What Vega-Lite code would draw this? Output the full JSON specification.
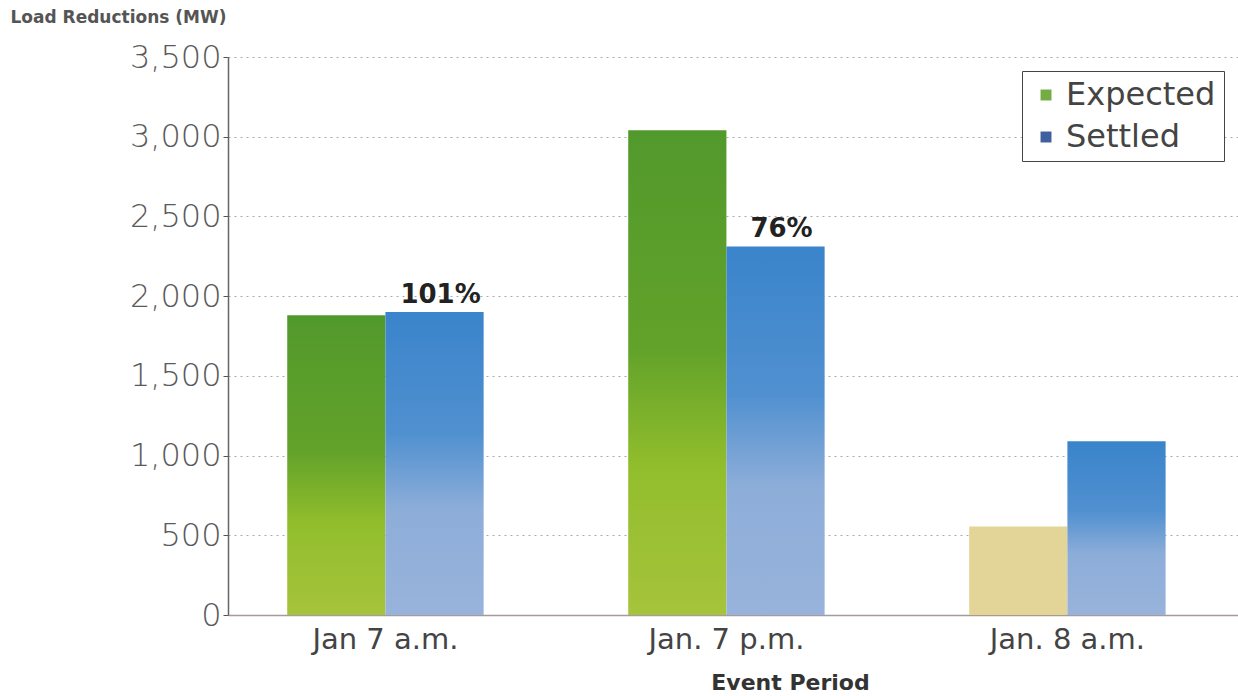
{
  "$schema": "https://vega.github.io/schema/vega-lite/v6.json",
  "width": 1010,
  "height": 558,
  "padding": {"left": 10, "top": 8, "right": 0, "bottom": 0},
  "background": "white",
  "data": {
    "values": [
      {"period": "Jan 7 a.m.", "series": "Expected", "value": 1880, "label": null},
      {"period": "Jan 7 a.m.", "series": "Settled", "value": 1900, "label": "101%"},
      {"period": "Jan. 7 p.m.", "series": "Expected", "value": 3040, "label": null},
      {"period": "Jan. 7 p.m.", "series": "Settled", "value": 2312, "label": "76%"},
      {"period": "Jan. 8 a.m.", "series": "Expected", "value": 555, "label": null},
      {"period": "Jan. 8 a.m.", "series": "Settled", "value": 1090, "label": null}
    ]
  },
  "config": {
    "view": {"stroke": null},
    "font": "DejaVu Sans"
  },
  "encoding": {
    "x": {
      "field": "period",
      "type": "nominal",
      "sort": ["Jan 7 a.m.", "Jan. 7 p.m.", "Jan. 8 a.m."],
      "scale": {"paddingInner": 0.424, "paddingOuter": 0.193, "align": 0.45},
      "axis": {
        "title": "Event Period",
        "titleFont": "DejaVu Sans",
        "titleFontSize": 22,
        "titleFontWeight": "bold",
        "titleColor": "#333333",
        "titleX": 562,
        "titleAlign": "center",
        "titlePadding": 18,
        "labelAngle": 0,
        "labelFont": "DejaVu Sans",
        "labelFontSize": 29,
        "labelColor": "#444444",
        "labelPadding": 10,
        "ticks": false,
        "domainColor": "#a89a9a",
        "domainWidth": 1.5,
        "grid": false
      }
    },
    "xOffset": {
      "field": "series",
      "type": "nominal",
      "scale": {"domain": ["Expected", "Settled"], "paddingInner": 0, "paddingOuter": 0}
    },
    "y": {
      "field": "value",
      "type": "quantitative",
      "scale": {"domain": [0, 3500], "nice": false},
      "axis": {
        "values": [0, 500, 1000, 1500, 2000, 2500, 3000, 3500],
        "format": ",d",
        "title": "Load Reductions (MW)",
        "titleAngle": 0,
        "titleAlign": "left",
        "titleBaseline": "top",
        "titleX": -218,
        "titleY": -48,
        "titleFont": "DejaVu Sans",
        "titleFontSize": 17,
        "titleFontWeight": "bold",
        "titleColor": "#555555",
        "labelFont": "DejaVu Sans",
        "labelFontSize": 32,
        "labelFontWeight": 300,
        "labelColor": "#5a5a5a",
        "labelPadding": 2,
        "tickSize": 5,
        "tickColor": "#555555",
        "domainColor": "#666666",
        "domainWidth": 1.5,
        "grid": true,
        "gridColor": "#aaaaaa",
        "gridDash": [2, 4],
        "gridWidth": 1
      }
    }
  },
  "layer": [
    {
      "mark": {"type": "bar"},
      "encoding": {
        "color": {
          "condition": [
            {
              "test": "datum.series === 'Expected' && datum.period === 'Jan. 8 a.m.'",
              "value": "#e2d597"
            },
            {
              "test": "datum.series === 'Expected'",
              "value": {
                "gradient": "linear", "x1": 0, "y1": 0, "x2": 0, "y2": 1,
                "stops": [
                  {"offset": 0, "color": "#52992c"},
                  {"offset": 0.45, "color": "#62a22a"},
                  {"offset": 0.7, "color": "#92be2c"},
                  {"offset": 1, "color": "#a6c33c"}
                ]
              }
            },
            {
              "test": "datum.series === 'Settled'",
              "value": {
                "gradient": "linear", "x1": 0, "y1": 0, "x2": 0, "y2": 1,
                "stops": [
                  {"offset": 0, "color": "#3a84cb"},
                  {"offset": 0.4, "color": "#5090d0"},
                  {"offset": 0.65, "color": "#8dadd9"},
                  {"offset": 1, "color": "#98b3db"}
                ]
              }
            }
          ],
          "field": "series",
          "type": "nominal",
          "scale": {"domain": ["Expected", "Settled"], "range": ["#74ac44", "#3f5f9f"]},
          "legend": {
            "title": null,
            "orient": "top-right",
            "offset": 14,
            "symbolType": "square",
            "symbolSize": 120,
            "symbolStrokeWidth": 0,
            "labelFont": "DejaVu Sans",
            "labelFontSize": 32,
            "labelColor": "#444444",
            "labelOffset": 4,
            "rowPadding": 10,
            "padding": 8,
            "strokeColor": "#444444",
            "fillColor": "white"
          }
        }
      }
    },
    {
      "transform": [{"filter": "datum.label != null"}],
      "mark": {
        "type": "text",
        "baseline": "bottom",
        "dy": -4,
        "dx": 6,
        "fontSize": 26,
        "fontWeight": "bold",
        "color": "#222222",
        "font": "DejaVu Sans"
      },
      "encoding": {
        "text": {"field": "label"}
      }
    }
  ]
}
